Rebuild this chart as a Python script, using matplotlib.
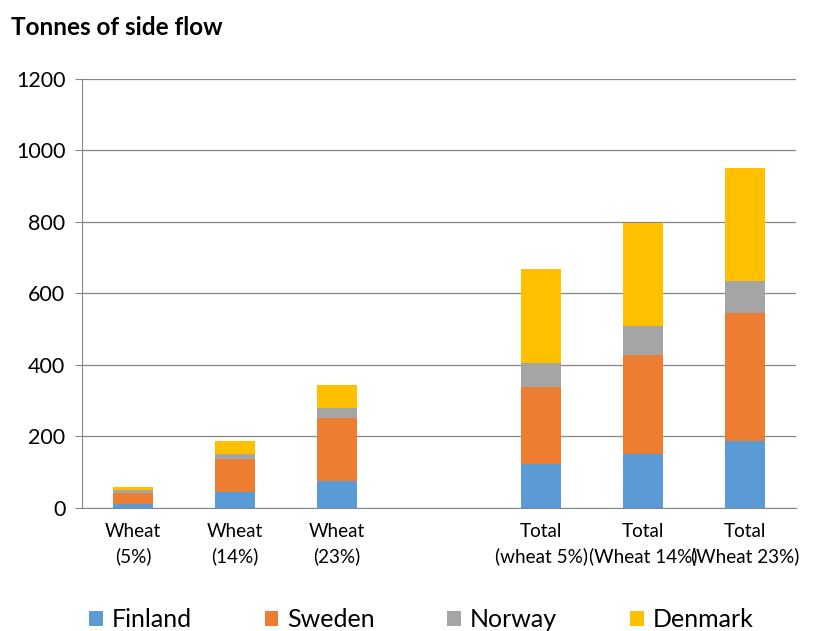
import numpy as np
import matplotlib.pyplot as plt

# categories (slot 3 left empty as in the original)
categories = ['Wheat\n(5%)', 'Wheat\n(14%)', 'Wheat\n(23%)',
              'Total\n(wheat 5%)', 'Total\n(Wheat 14%)', 'Total\n(Wheat 23%)']
slots = [0, 1, 2, 4, 5, 6]

# values per country (tonnes)
finland = [12, 44, 76, 124, 152, 188]
sweden = [31, 94, 176, 213, 276, 356]
norway = [6, 14, 28, 69, 81, 91]
denmark = [10, 36, 64, 262, 289, 315]

countries = ['Finland', 'Sweden', 'Norway', 'Denmark']
colors = ['#5B9BD5', '#ED7D31', '#A5A5A5', '#FFC000']

plt.rcParams['font.family'] = ['Lato', 'DejaVu Sans']

fig = plt.figure(figsize=(8.16, 6.31), dpi=100)
ax = fig.add_axes([0.1005, 0.195, 0.875, 0.68])

bottom = np.zeros(len(slots))
for vals, name, c in zip([finland, sweden, norway, denmark], countries, colors):
    ax.bar(slots, vals, width=0.4, bottom=bottom, color=c, label=name, zorder=3)
    bottom += np.array(vals)

ax.set_xlim(-0.5, 6.5)
ax.set_ylim(0, 1200)
ax.set_yticks(range(0, 1201, 200))
ax.tick_params(axis='y', labelsize=15.5, length=5, color='#868686', pad=7)
ax.set_xticks(slots)
ax.set_xticklabels(categories, fontsize=13.6, linespacing=1.45)
ax.tick_params(axis='x', length=0, pad=11)
ax.grid(axis='y', color='#868686', linewidth=0.9, zorder=0)
for s in ['top', 'right']:
    ax.spines[s].set_visible(False)
ax.spines['left'].set_color('#868686')
ax.spines['bottom'].set_color('#868686')

fig.text(0.014, 0.957, 'Tonnes of side flow', fontsize=17.5, fontweight='bold', va='center')

fig.legend(loc='upper left', bbox_to_anchor=(0.097, 0.052), ncol=4, frameon=False,
           fontsize=18, handlelength=0.55, handleheight=0.55, handletextpad=0.36,
           columnspacing=2.9, borderaxespad=0)

fig.savefig('out.png', dpi=100)
